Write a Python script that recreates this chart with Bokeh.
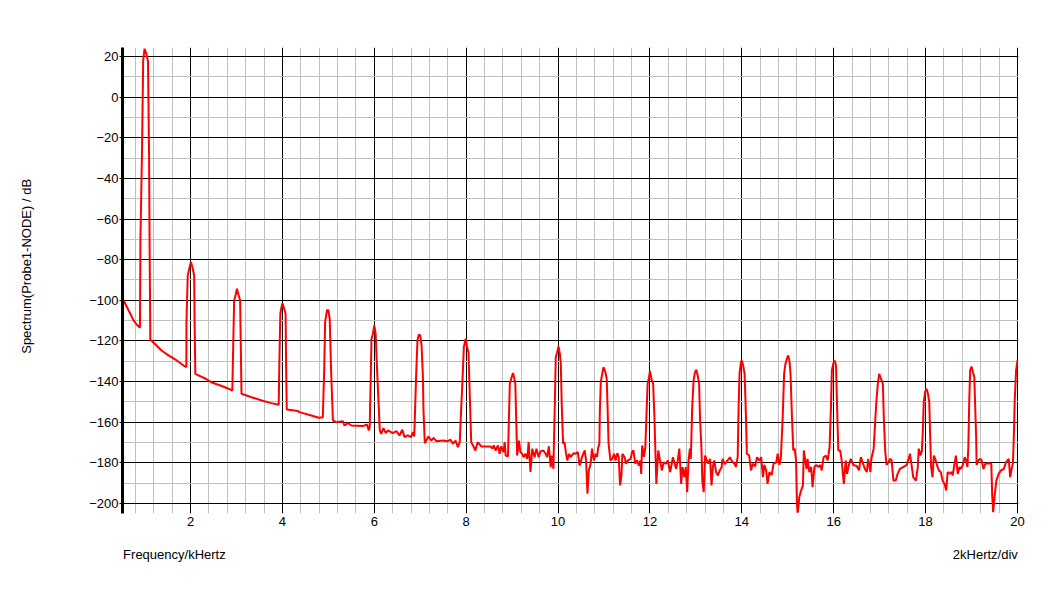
from bokeh.plotting import figure
from bokeh.models import FixedTicker, LinearAxis, Range1d
from bokeh.embed import file_html
from bokeh.resources import INLINE

# ---- data ----
freq_khz = [
    0.52, 0.58, 0.69, 0.76, 0.83, 0.90, 0.91, 0.945, 0.97, 1.00, 1.04, 1.075, 1.098, 1.11, 1.126,
    1.37, 1.52, 1.70, 1.85, 1.91, 1.912, 1.94, 1.98, 2.01, 2.05, 2.08, 2.09, 2.105,
    2.33, 2.45, 2.65, 2.83, 2.91, 2.93, 2.95, 2.98, 3.01, 3.05, 3.08, 3.095, 3.11,
    3.33, 3.55, 3.76, 3.92, 3.935, 3.955, 3.98, 4.00, 4.03, 4.07, 4.08, 4.095, 4.34,
    4.37, 4.63, 4.79, 4.88, 4.91, 4.93, 4.97, 5.00, 5.03, 5.06, 5.10,
    5.17, 5.32, 5.35, 5.43, 5.50, 5.75, 5.84, 5.88, 5.90, 5.92, 5.94, 5.97, 6.00, 6.03, 6.06, 6.09, 6.12,
    6.15, 6.20, 6.25, 6.30, 6.40, 6.48, 6.55, 6.61, 6.66, 6.73, 6.80, 6.84, 6.87,
    6.89, 6.91, 6.94, 6.97, 7.00, 7.03, 7.06, 7.07, 7.10,
    7.13, 7.18, 7.24, 7.29, 7.35, 7.50, 7.60, 7.66, 7.71, 7.77, 7.82, 7.86,
    7.89, 7.92, 7.95, 7.99, 8.02, 8.05, 8.08, 8.11,
    8.15, 8.20, 8.25, 8.33, 8.53, 8.57, 8.60, 8.64, 8.69, 8.73, 8.76, 8.81, 8.84, 8.86, 8.91,
    8.93, 8.95, 8.99, 9.02, 9.05, 9.07, 9.09, 9.11,
    9.15, 9.18, 9.22, 9.25, 9.29, 9.33, 9.36, 9.40, 9.44, 9.49, 9.53, 9.58, 9.62, 9.68, 9.73, 9.76,
    9.80, 9.84, 9.86, 9.90, 9.91, 9.93, 9.95, 9.98, 10.01, 10.04, 10.06, 10.08, 10.11,
    10.14, 10.17, 10.20, 10.24, 10.27, 10.34, 10.38, 10.43, 10.47, 10.52, 10.58, 10.61, 10.64,
    10.67, 10.71, 10.74, 10.78, 10.82, 10.85, 10.87, 10.90,
    10.91, 10.93, 10.96, 10.99, 11.03, 11.06, 11.08, 11.10,
    11.14, 11.18, 11.22, 11.25, 11.29, 11.32, 11.35, 11.38, 11.40, 11.45, 11.48, 11.52, 11.58,
    11.61, 11.64, 11.68, 11.72, 11.76, 11.79, 11.81, 11.83, 11.87, 11.90,
    11.92, 11.95, 11.98, 12.00, 12.04, 12.07, 12.10, 12.12, 12.14,
    12.18, 12.22, 12.26, 12.30, 12.35, 12.39, 12.44, 12.50, 12.53, 12.57, 12.60, 12.64, 12.68,
    12.71, 12.75, 12.78, 12.81, 12.84, 12.87, 12.89,
    12.92, 12.95, 12.98, 13.01, 13.04, 13.07, 13.09, 13.12, 13.14,
    13.17, 13.20, 13.24, 13.27, 13.31, 13.34, 13.37, 13.40, 13.44, 13.48, 13.52, 13.56, 13.58,
    13.63, 13.69, 13.74, 13.78, 13.84, 13.87, 13.91,
    13.93, 13.95, 13.98, 14.00, 14.03, 14.06, 14.08, 14.11,
    14.16, 14.20, 14.24, 14.29, 14.33, 14.38, 14.42, 14.46, 14.49, 14.53, 14.56, 14.60, 14.65,
    14.69, 14.75, 14.78, 14.82, 14.85,
    14.89, 14.92, 14.95, 14.98, 15.01, 15.04, 15.06, 15.09, 15.12,
    15.15, 15.18, 15.20, 15.22, 15.25, 15.29, 15.33, 15.35, 15.38, 15.41, 15.43, 15.47, 15.51,
    15.54, 15.58, 15.62, 15.67, 15.71, 15.74, 15.78, 15.83, 15.87, 15.91,
    15.94, 15.96, 15.99, 16.02, 16.05, 16.07, 16.10,
    16.14, 16.17, 16.20, 16.22, 16.26, 16.29, 16.33, 16.37, 16.43, 16.50, 16.55, 16.59, 16.64,
    16.68, 16.72, 16.75, 16.80, 16.82, 16.87,
    16.90, 16.93, 16.96, 16.99, 17.03, 17.07, 17.09, 17.12,
    17.15, 17.19, 17.23, 17.26, 17.30, 17.35, 17.39, 17.44, 17.52, 17.59, 17.63, 17.66, 17.70,
    17.73, 17.79, 17.83, 17.85, 17.89, 17.92,
    17.94, 17.96, 17.99, 18.02, 18.05, 18.08, 18.10, 18.12,
    18.15, 18.18, 18.22, 18.26, 18.29, 18.33, 18.37, 18.41, 18.45, 18.48, 18.52, 18.56, 18.59,
    18.63, 18.66, 18.70, 18.74, 18.77, 18.81, 18.85, 18.88, 18.91,
    18.93, 18.95, 18.97, 19.00, 19.03, 19.06, 19.08, 19.10, 19.11,
    19.15, 19.19, 19.22, 19.26, 19.30, 19.37, 19.43, 19.45, 19.47, 19.50, 19.54, 19.59, 19.64,
    19.70, 19.75, 19.81, 19.84, 19.88, 19.90,
    19.92, 19.94, 19.97, 20.00,
]

spectrum_db = [
    -99.0, -101.7, -106.6, -109.9, -111.9, -113.5, -70.2, -26.3, 18.0, 23.8, 21.3, 17.7, -27.9, -73.8, -119.3,
    -124.7, -127.1, -129.6, -132.1, -132.9, -110.7, -87.8, -83.7, -81.2, -84.5, -87.8, -111.5, -136.2,
    -138.6, -140.3, -141.9, -143.5, -144.4, -122.2, -100.1, -97.6, -94.3, -97.6, -100.0, -123.0, -146.0,
    -147.7, -149.3, -150.6, -151.4, -129.6, -106.6, -103.4, -101.4, -103.4, -106.6, -130.4, -153.7, -154.5,
    -155.0, -156.7, -157.8, -157.5, -134.5, -110.7, -105.0, -104.7, -109.1, -134.5, -159.1,
    -160.0, -159.5, -161.6, -160.4, -161.6, -161.9, -161.1, -164.0, -162.4, -141.0, -118.9, -116.5, -112.4, -116.5, -133.7, -148.5, -164.0,
    -165.7, -162.9, -165.3, -164.0, -165.3, -164.4, -166.5, -163.7, -167.3, -166.5, -167.3, -164.9, -167.0,
    -152.6, -137.8, -119.8, -116.8, -117.3, -122.2, -138.6, -153.4, -170.3,
    -169.0, -167.0, -169.0, -167.7, -169.3, -169.0, -169.3, -168.6, -170.6, -169.0, -172.3, -169.8,
    -154.2, -139.4, -123.0, -118.9, -123.0, -125.5, -147.7, -169.8,
    -171.4, -173.9, -169.8, -171.9, -171.9, -173.0, -171.4, -173.9, -171.4, -175.5, -171.9, -174.7, -169.8, -176.4, -176.8,
    -159.1, -141.1, -137.8, -135.8, -138.6, -141.1, -159.1, -176.4,
    -169.0, -174.7, -175.5, -177.2, -175.5, -178.0, -169.8, -184.5, -173.0, -177.2, -173.0, -177.2, -174.2, -173.9, -175.5, -177.2,
    -171.9, -182.1, -176.4, -182.9, -170.6, -150.9, -128.0, -125.5, -122.7, -126.3, -131.2, -150.9, -170.6,
    -169.8, -174.7, -178.8, -175.5, -177.2, -175.2, -175.5, -174.7, -181.3, -177.2, -173.9, -178.8, -195.2,
    -183.7, -180.4, -173.0, -178.8, -175.5, -177.0, -173.0, -170.3,
    -154.2, -140.3, -136.2, -132.9, -135.4, -138.6, -154.2, -170.6,
    -178.8, -178.0, -175.5, -178.8, -175.2, -177.0, -191.1, -186.2, -175.5, -177.2, -180.4, -178.8, -178.0,
    -174.7, -173.9, -180.4, -178.8, -181.3, -178.8, -185.4, -171.4, -177.0, -172.3,
    -159.1, -141.1, -137.8, -134.8, -139.4, -141.1, -159.1, -175.5, -190.3,
    -173.9, -178.8, -183.7, -179.7, -180.4, -178.8, -184.5, -177.2, -179.7, -182.9, -179.7, -173.0, -190.3,
    -182.1, -187.0, -182.1, -194.4, -178.8, -173.0, -178.0,
    -152.6, -139.4, -135.4, -134.2, -137.0, -141.1, -157.5, -172.3, -188.7,
    -194.4, -176.4, -178.8, -180.4, -178.0, -191.1, -182.0, -178.8, -184.5, -186.2, -183.7, -182.1, -178.0,
    -180.6, -178.8, -177.2, -179.0, -180.4, -182.0, -177.2,
    -152.6, -136.2, -130.4, -129.6, -132.1, -136.2, -149.3, -175.5,
    -176.4, -183.7, -180.4, -181.7, -177.2, -178.8, -177.2, -187.0, -181.0, -183.7, -190.3, -184.5, -186.0,
    -180.4, -179.7, -175.5, -181.0, -177.2,
    -157.5, -136.2, -131.2, -128.8, -127.1, -130.4, -136.2, -156.7, -173.9,
    -173.0, -178.8, -200.1, -204.5, -196.9, -193.6, -191.1, -173.9, -178.8, -183.0, -178.0, -184.5, -182.0,
    -192.0, -182.0, -181.0, -182.0, -181.0, -183.7, -177.2, -176.4, -178.8, -172.3,
    -152.6, -134.5, -131.2, -129.6, -132.1, -149.3, -173.9,
    -173.9, -178.0, -185.4, -190.3, -178.8, -185.4, -181.0, -178.0, -181.0, -181.5, -183.7, -177.2, -180.4,
    -183.0, -184.5, -178.0, -184.5, -178.0, -173.0,
    -160.8, -149.3, -141.1, -136.2, -138.6, -141.1, -157.5, -173.9,
    -181.0, -179.7, -178.0, -178.8, -188.7, -188.7, -185.4, -183.0, -182.0, -181.0, -178.0, -175.5, -182.0,
    -187.0, -188.7, -182.0, -173.0, -176.4, -173.9,
    -164.0, -150.1, -145.1, -143.5, -145.9, -150.1, -167.3, -182.0,
    -187.0, -176.4, -178.8, -182.0, -183.7, -184.5, -188.7, -190.3, -193.6, -184.5, -185.4, -184.5, -186.2,
    -180.4, -176.4, -185.4, -182.0, -183.0, -181.0, -177.2, -178.8, -182.0,
    -172.3, -149.3, -134.5, -132.6, -135.4, -137.8, -152.6, -167.3, -181.0,
    -178.8, -178.0, -178.8, -183.0, -180.4, -180.2, -180.4, -196.0, -204.2, -196.9, -188.7, -185.4, -183.7,
    -183.0, -179.7, -178.0, -187.0, -182.0, -180.4,
    -167.3, -149.3, -134.5, -129.6,
]

x_major_ticks = [2, 4, 6, 8, 10, 12, 14, 16, 18, 20]
x_minor_ticks = [0.8, 1.2, 1.6, 2.4, 2.8, 3.2, 3.6, 4.4, 4.8, 5.2, 5.6, 6.4, 6.8, 7.2, 7.6,
                 8.4, 8.8, 9.2, 9.6, 10.4, 10.8, 11.2, 11.6, 12.4, 12.8, 13.2, 13.6,
                 14.4, 14.8, 15.2, 15.6, 16.4, 16.8, 17.2, 17.6, 18.4, 18.8, 19.2, 19.6]
y_major_ticks = [-200, -180, -160, -140, -120, -100, -80, -60, -40, -20, 0, 20]
y_minor_ticks = [-190, -170, -150, -130, -110, -90, -70, -50, -30, -10, 10]

x_title = "Frequency/kHertz"
x_scale_note = "2kHertz/div"
y_title = "Spectrum(Probe1-NODE) / dB"

FONT = "Liberation Sans"
FSIZE = "13px"

p = figure(
    width=1048, height=580,
    x_range=Range1d(0.52, 20.022), y_range=Range1d(-204.9, 24.4),
    output_backend="svg", toolbar_location=None,
    min_border_left=122, min_border_right=30, min_border_top=47, min_border_bottom=67,
)
p.outline_line_color = None
p.background_fill_color = "white"
p.border_fill_color = "white"

xt = FixedTicker(ticks=x_major_ticks, minor_ticks=x_minor_ticks)
yt = FixedTicker(ticks=y_major_ticks, minor_ticks=y_minor_ticks)
p.xaxis.ticker = xt
p.yaxis.ticker = yt
p.xgrid.ticker = xt
p.ygrid.ticker = yt

for g in (p.xgrid, p.ygrid):
    g.grid_line_color = "black"
    g.grid_line_width = 1
    g.minor_grid_line_color = "#c0c0c0"
    g.minor_grid_line_width = 1

xa = p.xaxis[0]
xa.axis_line_color = None
xa.major_tick_line_color = None
xa.minor_tick_line_color = None
xa.major_tick_out = 0
xa.major_tick_in = 0
xa.minor_tick_out = 0
xa.major_label_standoff = 3
xa.major_label_text_font = FONT
xa.major_label_text_font_size = FSIZE
xa.major_label_text_color = "black"

ya = p.yaxis[0]
ya.axis_line_color = "black"
ya.axis_line_width = 3
ya.major_tick_line_color = "black"
ya.major_tick_line_width = 1
ya.major_tick_out = 3
ya.major_tick_in = 0
ya.minor_tick_line_color = None
ya.minor_tick_out = 0
ya.major_label_standoff = 1
ya.major_label_text_font = FONT
ya.major_label_text_font_size = FSIZE
ya.major_label_text_color = "black"

p.line(freq_khz, spectrum_db, line_color="#ff0000", line_width=2)

# caption row under the tick labels: texts placed as labels of an extra bare axis
x_caption_pos = [1.65, 19.30]
cap_axis = LinearAxis(
    ticker=FixedTicker(ticks=x_caption_pos, minor_ticks=[]),
    major_label_overrides={x_caption_pos[0]: x_title, x_caption_pos[1]: x_scale_note},
    axis_line_color=None, major_tick_line_color=None, minor_tick_line_color=None,
    major_tick_out=0, major_tick_in=0, minor_tick_out=0,
    major_label_standoff=18,
    major_label_text_font=FONT, major_label_text_font_size=FSIZE, major_label_text_color="black",
)
p.add_layout(cap_axis, "below")

# vertical y title as the label of an extra bare axis on the left
y_caption_pos = [-83.3]
ycap_axis = LinearAxis(
    ticker=FixedTicker(ticks=y_caption_pos, minor_ticks=[]),
    major_label_overrides={y_caption_pos[0]: y_title},
    major_label_orientation="vertical",
    axis_line_color=None, major_tick_line_color=None, minor_tick_line_color=None,
    major_tick_out=0, major_tick_in=0, minor_tick_out=0,
    major_label_standoff=52,
    major_label_text_font=FONT, major_label_text_font_size=FSIZE, major_label_text_color="black",
)
p.add_layout(ycap_axis, "left")

open("out.html", "w").write(file_html(p, INLINE))
